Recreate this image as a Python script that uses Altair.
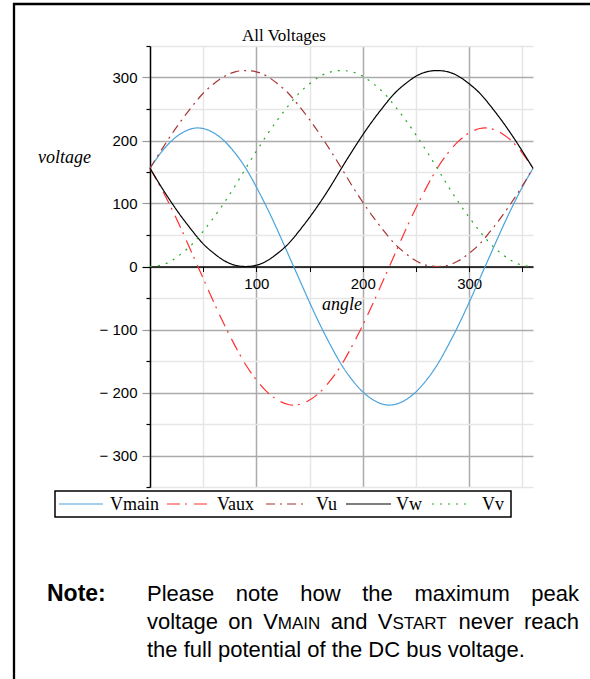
import altair as alt
import pandas as pd

# ---------------------------------------------------------------- data
angle = list(range(0, 361, 10))

vmain = [156, 180, 199, 212, 219, 219, 212, 199, 180, 156,
         126, 93, 57, 19, -19, -57, -93, -126, -156,
         -180, -199, -212, -219, -219, -212, -199, -180, -156,
         -126, -93, -57, -19, 19, 57, 93, 126, 156]
vaux = [156, 126, 93, 57, 19, -19, -57, -93, -126, -156,
        -180, -199, -212, -219, -219, -212, -199, -180, -156,
        -126, -93, -57, -19, 19, 57, 93, 126, 156,
        180, 199, 212, 219, 219, 212, 199, 180, 156]
vu = [156, 183, 209, 233, 255, 275, 290, 302, 309, 311,
      309, 302, 290, 275, 255, 233, 209, 183, 156,
      128, 102, 78, 56, 36, 21, 9, 2, 0,
      2, 9, 21, 36, 56, 78, 102, 128, 156]
vw = [156, 128, 102, 78, 56, 36, 21, 9, 2, 0,
      2, 9, 21, 36, 56, 78, 102, 128, 156,
      183, 209, 233, 255, 275, 290, 302, 309, 311,
      309, 302, 290, 275, 255, 233, 209, 183, 156]
vv = [0, 2, 9, 21, 36, 56, 78, 102, 128, 156,
      183, 209, 233, 255, 275, 290, 302, 309, 311,
      309, 302, 290, 275, 255, 233, 209, 183, 156,
      128, 102, 78, 56, 36, 21, 9, 2, 0]

series_names = ["Vmain", "Vaux", "Vu", "Vw", "Vv"]
series_values = [vmain, vaux, vu, vw, vv]

x_ticks = list(range(50, 351, 50))
y_ticks = list(range(-350, 351, 50))

# ---------------------------------------------------------------- style
series_colors = ["#4ba3dc", "#ff3030", "#a83434", "#000000", "#1caa1c"]
series_dashes = [[1, 0], [13, 5, 2, 7], [9, 5, 2, 5], [1, 0], [2, 6]]

SERIF = "Liberation Serif"
SANS = "Liberation Sans"
MAJOR_GRID = "#ababab"
MINOR_GRID = "#e6e6e6"

# plot area in page pixels
PLOT_L, PLOT_T, PLOT_R, PLOT_B = 150, 46, 533, 487
PAGE_W, PAGE_H = 590, 679
W = PLOT_R - PLOT_L
H = PLOT_B - PLOT_T


def px(x):
    return x - PLOT_L


def py(y):
    return y - PLOT_T


rows = []
for name, vals in zip(series_names, series_values):
    for a, v in zip(angle, vals):
        rows.append({"angle": a, "voltage": v, "series": name})
df = pd.DataFrame(rows)

major = "datum.value % 100 === 0"

x_axis = alt.Axis(
    orient="bottom", offset=-H / 2, values=x_ticks, title=None,
    labelExpr=f"{major} ? datum.label : ''",
    labelFont=SANS, labelFontSize=15, labelColor="black", labelPadding=5,
    labelFlush=False, labelOverlap=False,
    tickColor="black", tickSize=5, tickWidth=1,
    domainColor="black", domainWidth=1.5,
    grid=True, gridWidth=1.5,
    gridColor={"condition": {"test": major, "value": MAJOR_GRID}, "value": MINOR_GRID},
)

y_axis = alt.Axis(
    orient="left", values=y_ticks, title=None,
    labelExpr=(f"{major} ? (datum.value < 0 ? '\u2212 ' + (-datum.value) : '' + datum.value) : ''"),
    labelFont=SANS, labelFontSize=15, labelColor="black", labelPadding=5,
    labelFlush=False, labelOverlap=False,
    tickSize={"condition": {"test": major, "value": 8}, "value": 4},
    tickColor={"condition": {"test": f"{major} && datum.value !== 0", "value": "#9a9a9a"}, "value": "black"},
    tickWidth=1.2,
    domainColor="black", domainWidth=1.5,
    grid=True, gridWidth=1.5,
    gridColor={"condition": {"test": major, "value": MAJOR_GRID}, "value": MINOR_GRID},
)

lines = alt.Chart(df).mark_line(strokeWidth=1.2, interpolate="natural").encode(
    x=alt.X("angle:Q", scale=alt.Scale(domain=[0, 360], nice=False, zero=False), axis=x_axis),
    y=alt.Y("voltage:Q", scale=alt.Scale(domain=[-350, 350], nice=False), axis=y_axis),
    color=alt.Color("series:N", scale=alt.Scale(domain=series_names, range=series_colors), legend=None),
    strokeDash=alt.StrokeDash("series:N", scale=alt.Scale(domain=series_names, range=series_dashes), legend=None),
    order=alt.value(0),
)

one = alt.Data(values=[{}])


def text_at(text, x, y, size, font=SERIF, style="normal", weight="normal", align="left"):
    return alt.Chart(one).mark_text(
        text=text, font=font, fontSize=size, fontStyle=style, fontWeight=weight,
        align=align, baseline="alphabetic", color="black",
    ).encode(x=alt.value(px(x)), y=alt.value(py(y)))


def hrule(x0, x1, y, width=1.0, color="black", dash=None):
    kw = {"color": color, "strokeWidth": width}
    if dash is not None:
        kw["strokeDash"] = dash
    return alt.Chart(one).mark_rule(**kw).encode(
        x=alt.value(px(x0)), x2=alt.value(px(x1)), y=alt.value(py(y)))


def vrule(x, y0, y1, width=1.0, color="black"):
    return alt.Chart(one).mark_rule(color=color, strokeWidth=width).encode(
        x=alt.value(px(x)), y=alt.value(py(y0)), y2=alt.value(py(y1)))


layers = [lines]

# titles
layers.append(text_at("All Voltages", 242, 41, 17))
layers.append(text_at("voltage", 38, 163, 18, style="italic"))
layers.append(text_at("angle", 322, 310, 18, style="italic"))

# legend box and entries
layers.append(alt.Chart(one).mark_rect(fill="white", stroke="black", strokeWidth=1.5).encode(
    x=alt.value(px(55)), x2=alt.value(px(511)), y=alt.value(py(491)), y2=alt.value(py(517))))
legend_sym = [(59, 103), (167, 207), (266, 307), (346, 391), (432, 472)]
legend_txt = [110, 217, 316, 396, 482]
for name, color, dash, (s0, s1), tx in zip(series_names, series_colors, series_dashes,
                                           legend_sym, legend_txt):
    layers.append(hrule(s0, s1, 504, width=1.1, color=color, dash=dash))
    layers.append(text_at(name, tx, 510, 18))

# page frame
layers.append(hrule(13, PAGE_W, 4, width=2.3))
layers.append(vrule(14, 3, PAGE_H, width=2.3))

# note block (Arial metrics for justified lines)
ARIAL = {
    "a": 556, "b": 556, "c": 500, "d": 556, "e": 556, "f": 278, "g": 556, "h": 556,
    "i": 222, "k": 500, "l": 222, "m": 833, "n": 556, "o": 556, "p": 556, "r": 333,
    "s": 500, "t": 278, "u": 556, "v": 500, "w": 722, "x": 500, "y": 500, " ": 278,
    ".": 278, ":": 278, "A": 667, "C": 722, "D": 722, "I": 278, "M": 833, "N": 722,
    "P": 667, "R": 722, "S": 667, "T": 611, "V": 667,
}
NOTE_SIZE = 22
SMALL_SIZE = 17


def run_width(text, size):
    return sum(ARIAL.get(c, 556) for c in text) / 1000 * size


def note_line(words, x0, x1, y, justify=True):
    widths = [sum(run_width(t, s) for t, s in w) for w in words]
    if justify:
        gap = (x1 - x0 - sum(widths)) / (len(words) - 1)
    else:
        gap = run_width(" ", NOTE_SIZE)
    x = x0
    out = []
    for w, width in zip(words, widths):
        cx = x
        for t, s in w:
            out.append(text_at(t, cx, y, s, font=SANS))
            cx += run_width(t, s)
        x += width + gap
    return out


N, S = NOTE_SIZE, SMALL_SIZE
layers.append(text_at("Note:", 47, 601, 23, font=SANS, weight="bold"))
line1 = [[(w, N)] for w in "Please note how the maximum peak".split()]
line2 = [[("voltage", N)], [("on", N)], [("V", N), ("MAIN", S)], [("and", N)],
         [("V", N), ("START", S)], [("never", N)], [("reach", N)]]
line3 = [[(w, N)] for w in "the full potential of the DC bus voltage.".split()]
layers += note_line(line1, 147, 579, 601)
layers += note_line(line2, 147, 579, 629)
layers += note_line(line3, 147, 579, 657, justify=False)

chart = alt.layer(*layers).properties(
    width=W, height=H,
    padding={"left": PLOT_L, "top": PLOT_T, "right": PAGE_W - PLOT_R, "bottom": PAGE_H - PLOT_B},
    autosize=alt.AutoSizeParams(type="none"),
    background="white",
).configure_view(stroke=None)

chart.save("out.html", embed_options={"renderer": "svg", "actions": False})
